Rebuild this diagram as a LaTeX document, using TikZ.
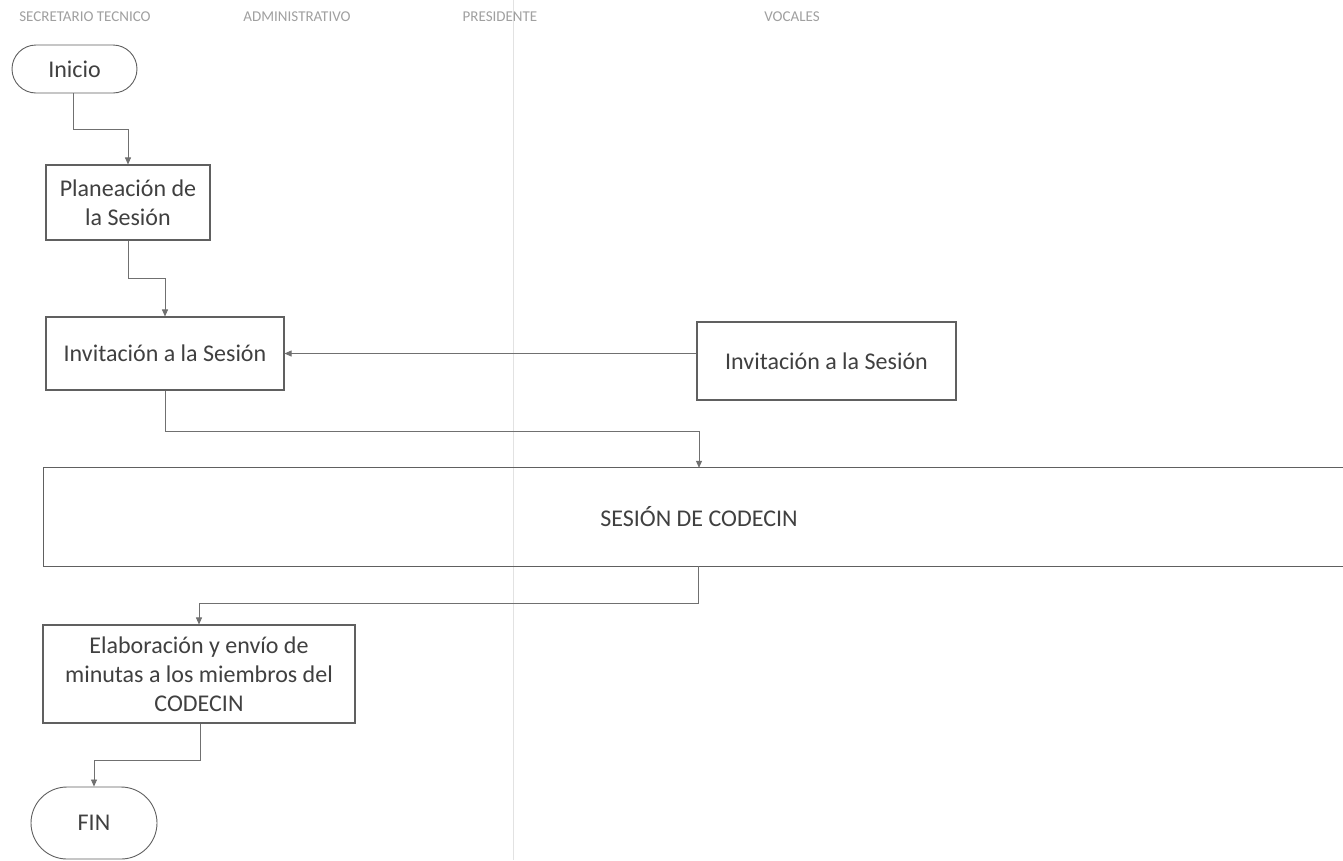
\documentclass[tikz,border=0pt]{standalone}
\usepackage{fontspec}
\setmainfont{Carlito}
\usetikzlibrary{arrows.meta,shapes.misc,calc}
\definecolor{linec}{HTML}{707070}
\definecolor{boxc}{HTML}{606060}
\definecolor{txtc}{HTML}{404040}
\definecolor{hdrc}{HTML}{A0A0A0}
\definecolor{lanec}{HTML}{E2E2E2}
\begin{document}
\begin{tikzpicture}[x=1pt,y=-1pt,
  procbox/.style={draw=boxc, line width=1.1pt, rectangle, align=center, text=txtc, font=\fontsize{24}{29}\selectfont, inner sep=0pt},
  termbox/.style={draw=boxc, line width=0.9pt, rounded rectangle, align=center, text=txtc, font=\fontsize{24}{29}\selectfont, inner sep=0pt},
  hdr/.style={text=hdrc, font=\fontsize{15}{17}\selectfont, inner sep=0pt},
  conn/.style={draw=linec, line width=0.8pt},
  arr/.style={conn, -{Triangle[length=7pt,width=6pt]}}]
\useasboundingbox (0,0) rectangle (1343,860);
\fill[white] (0,0) rectangle (1343,860);
% lane divider
\draw[lanec, line width=0.8pt] (513,0) -- (513,860);
% headers
\node[hdr] (h1) at (85,17) {SECRETARIO TECNICO};
\node[hdr] (h2) at (297,17) {ADMINISTRATIVO};
\node[hdr] (h3) at (500,17) {PRESIDENTE};
\node[hdr] (h4) at (792,17) {VOCALES};
% nodes
\node[termbox, minimum width=125pt, minimum height=48pt] (ini) at (74.5,69) {Inicio};
\node[procbox, minimum width=164pt, minimum height=75pt] (plan) at (128,202.5) {Planeación de\\la Sesión};
\node[procbox, minimum width=238pt, minimum height=73pt] (invL) at (165,353.5) {Invitación a la Sesión};
\node[procbox, minimum width=259pt, minimum height=78pt] (invR) at (826.5,361) {Invitación a la Sesión};
\node[inner sep=0pt, minimum width=1310pt, minimum height=98pt, text=txtc, font=\fontsize{24}{29}\selectfont] (cod) at (699,517) {SESIÓN DE CODECIN};
\draw[draw=boxc, line width=1.1pt] (cod.north east) -- (cod.north west) -- (cod.south west) -- (cod.south east);
\node[procbox, minimum width=312pt, minimum height=98pt] (elab) at (199,674) {Elaboración y envío de\\minutas a los miembros del\\CODECIN};
\node[termbox, minimum width=126pt, minimum height=72pt] (fin) at (94,823) {FIN};
% connectors
\coordinate (c1) at (73,129);
\draw[arr] (ini.south -| c1) -- (c1) -- (c1 -| plan.north) -- (plan.north);
\coordinate (c2) at (128,278);
\draw[arr] (plan.south) -- (c2) -- (c2 -| invL.north) -- (invL.north);
\draw[arr] (invR.west |- invL.east) -- (invL.east);
\coordinate (c3) at (165,431);
\coordinate (c4) at (699,431);
\draw[arr] (invL.south) -- (c3) -- (c4) -- (c4 |- cod.north);
\coordinate (c5) at (698,603);
\draw[arr] (c5 |- cod.south) -- (c5) -- (c5 -| elab.north) -- (elab.north);
\coordinate (c6) at (200,760);
\draw[arr] (c6 |- elab.south) -- (c6) -- (c6 -| fin.north) -- (fin.north);
\end{tikzpicture}
\end{document}
